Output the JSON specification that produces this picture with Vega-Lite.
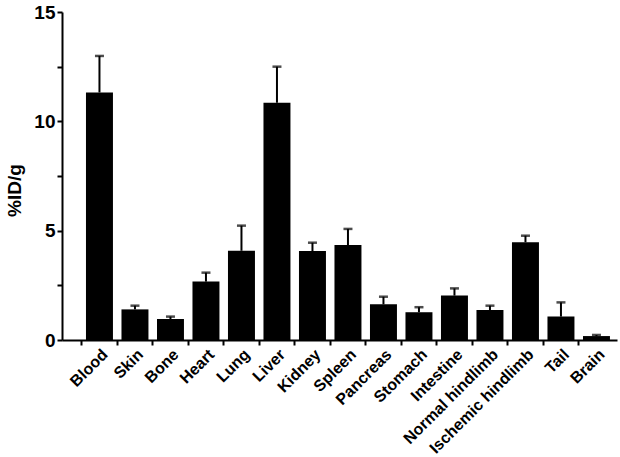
{
  "$schema": "https://vega.github.io/schema/vega-lite/v6.json",
  "autosize": "none",
  "padding": {"left": 62, "top": 12, "right": 3, "bottom": 117},
  "width": 555,
  "height": 328,
  "background": "white",
  "config": {
    "view": {"stroke": null},
    "font": "Liberation Sans",
    "axis": {"grid": false, "domainColor": "black", "domainWidth": 2, "tickColor": "black", "tickWidth": 2, "labelColor": "black", "titleColor": "black", "labelFont": "Liberation Sans", "titleFont": "Liberation Sans", "labelFontWeight": "bold", "titleFontWeight": "bold"}
  },
  "data": {
    "values": [
      {"organ": "Blood", "mean": 11.32, "upper": 12.99},
      {"organ": "Skin", "mean": 1.40, "upper": 1.57},
      {"organ": "Bone", "mean": 0.96, "upper": 1.07},
      {"organ": "Heart", "mean": 2.67, "upper": 3.08},
      {"organ": "Lung", "mean": 4.08, "upper": 5.23},
      {"organ": "Liver", "mean": 10.85, "upper": 12.5},
      {"organ": "Kidney", "mean": 4.07, "upper": 4.45},
      {"organ": "Spleen", "mean": 4.34, "upper": 5.08},
      {"organ": "Pancreas", "mean": 1.63, "upper": 1.98},
      {"organ": "Stomach", "mean": 1.27, "upper": 1.50},
      {"organ": "Intestine", "mean": 2.03, "upper": 2.36},
      {"organ": "Normal hindlimb", "mean": 1.37, "upper": 1.57},
      {"organ": "Ischemic hindlimb", "mean": 4.47, "upper": 4.77},
      {"organ": "Tail", "mean": 1.07, "upper": 1.72},
      {"organ": "Brain", "mean": 0.18, "upper": 0.23}
    ]
  },
  "encoding": {
    "x": {
      "field": "organ", "type": "nominal", "sort": null,
      "scale": {"paddingInner": 0, "paddingOuter": 0.317, "align": 0.876},
      "axis": {"title": null, "bandPosition": 0, "labelAngle": -45, "labelAlign": "right", "labelBaseline": "top", "labelFontSize": 16, "tickSize": 5, "labelPadding": 1, "labelBound": false, "labelOverlap": false}
    }
  },
  "layer": [
    {
      "mark": {"type": "bar", "color": "black", "width": {"band": 0.76}},
      "encoding": {
        "y": {
          "field": "mean", "type": "quantitative",
          "scale": {"domain": [0, 15], "nice": false},
          "axis": {"title": "%ID/g", "values": [0, 2.5, 5, 7.5, 10, 12.5, 15], "labelExpr": "datum.value % 5 === 0 ? datum.label : ''", "labelFontSize": 19, "titleFontSize": 19, "tickSize": 5, "labelPadding": 2, "titleX": -42, "titleY": 178, "titleBaseline": "alphabetic"}
        }
      }
    },
    {
      "mark": {"type": "rule", "color": "black", "strokeWidth": 2},
      "encoding": {
        "y": {"field": "mean", "type": "quantitative"},
        "y2": {"field": "upper"}
      }
    },
    {
      "mark": {"type": "tick", "color": "black", "thickness": 2.5, "size": 9, "orient": "horizontal"},
      "encoding": {
        "y": {"field": "upper", "type": "quantitative"}
      }
    }
  ]
}
